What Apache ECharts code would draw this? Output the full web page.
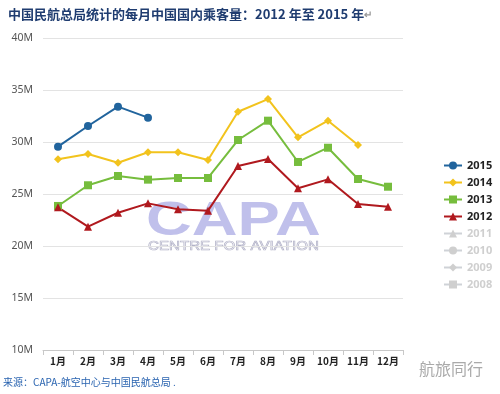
<!DOCTYPE html>
<html><head><meta charset="utf-8">
<script src="https://cdn.jsdelivr.net/npm/echarts@6/dist/echarts.min.js"></script>
<style>html,body{margin:0;padding:0;background:#fff}#c{width:500px;height:394px}</style>
</head><body><div id="c"></div>
<script>
const months = ['1月','2月','3月','4月','5月','6月','7月','8月','9月','10月','11月','12月'];
const y2015 = [29.55, 31.54, 33.4, 32.34];
const y2014 = [28.34, 28.85, 28.01, 29.01, 29.01, 28.27, 32.91, 34.13, 30.45, 32.05, 29.71];
const y2013 = [23.85, 25.84, 26.73, 26.38, 26.54, 26.54, 30.19, 32.05, 28.08, 29.45, 26.44, 25.7];
const y2012 = [23.72, 21.86, 23.2, 24.1, 23.53, 23.4, 27.69, 28.37, 25.55, 26.41, 24.04, 23.78];
const hiddenYears = ['2011','2010','2009','2008'];
const yTicks = [10,15,20,25,30,35,40];

const chart = echarts.init(document.getElementById('c'));
const mk = (name, data, color, symbol, size) => ({
  name, type:'line', data, symbol, symbolSize:size,
  lineStyle:{color, width:2}, itemStyle:{color},
  showSymbol:true, animation:false
});
const hiddenSymbols = ['triangle','circle','diamond','rect'];
const series = [
  mk('2015', y2015, '#21649d', 'circle', 8),
  mk('2014', y2014, '#f2c31d', 'diamond', 8),
  mk('2013', y2013, '#76bd3d', 'rect', 8),
  mk('2012', y2012, '#b0191e', 'triangle', 8),
].concat(hiddenYears.map((n,i)=>mk(n, [], '#999', hiddenSymbols[i], 7)));

const selected = {};
hiddenYears.forEach(n=>selected[n]=false);

chart.setOption({
  backgroundColor:'#fff',
  animation:false,
  title:{
    text:'中国民航总局统计的每月中国国内乘客量：2012 年至 2015 年{m|↵}',
    left:3, top:3,
    textStyle:{fontFamily:'Noto Sans CJK SC', fontWeight:'bold', fontSize:13, color:'#1f3c70',
      rich:{m:{color:'#999', fontSize:10}}}
  },
  grid:{left:43, right:97, top:38, bottom:44},
  legend:{
    orient:'vertical', left:438, top:155,
    itemWidth:18, itemHeight:10, itemGap:6,
    selected,
    inactiveColor:'#cfcfcf',
    textStyle:{fontFamily:'Noto Sans', fontWeight:'bold', fontSize:11, color:'#222', lineHeight:10},
    data:['2015','2014','2013','2012'].concat(hiddenYears)
  },
  xAxis:{
    type:'category', data:months, boundaryGap:true,
    axisLine:{lineStyle:{color:'#c8c8c8'}},
    axisTick:{show:true, alignWithLabel:false, lineStyle:{color:'#c8c8c8'}, length:5},
    axisLabel:{color:'#222', fontFamily:'Noto Sans CJK SC', fontWeight:'bold', fontSize:10, margin:6}
  },
  yAxis:{
    type:'value', min:10, max:40, interval:5,
    axisLine:{show:false}, axisTick:{show:false},
    splitLine:{lineStyle:{color:'#e3e3e3'}},
    axisLabel:{color:'#555', fontFamily:'Noto Sans', fontSize:10.5, margin:10,
      formatter:v=> yTicks.includes(v) ? v+'M' : ''}
  },
  graphic:[
    {type:'text', z:0, x:146, y:198, scaleX:1.32, scaleY:1, style:{text:'CAPA', font:'bold 48px "Liberation Sans"', fill:'rgba(150,150,222,0.6)', textVerticalAlign:'top'}},
    {type:'text', z:0, x:148, y:239, scaleX:1.12, style:{text:'CENTRE FOR AVIATION', font:'13.5px "Liberation Sans"', fill:'rgba(255,255,255,0)', stroke:'rgba(165,165,190,0.85)', lineWidth:0.7, textVerticalAlign:'top'}},
    {type:'text', left:3, top:377, style:{text:'来源：CAPA-航空中心与中国民航总局 .', font:'10px "Noto Sans CJK SC"', fill:'#2a64b0'}},
    {type:'text', left:419, top:361, style:{text:'航旅同行', font:'16px "Noto Sans CJK SC"', fill:'#aaaaaa'}}
  ],
  series
});
</script></body></html>
